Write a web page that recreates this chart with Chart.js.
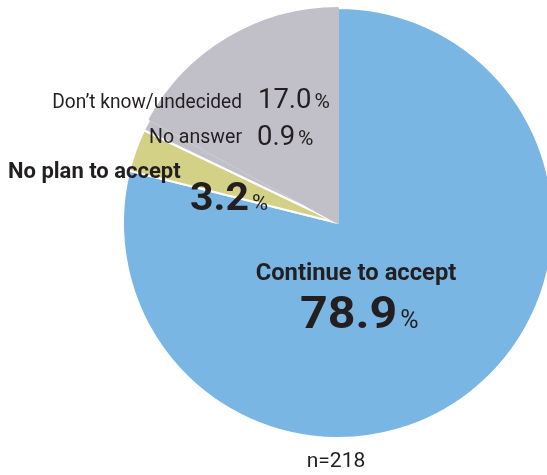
<!DOCTYPE html>
<html>
<head>
<meta charset="utf-8">
<script src="https://cdn.jsdelivr.net/npm/chart.js@4"></script>
<style>
  html, body { margin: 0; padding: 0; background: #fff; overflow: hidden; }
  #wrap { width: 547px; height: 475px; overflow: hidden; position: relative; }
  canvas { position: absolute; left: 0; top: 0; }
</style>
</head>
<body>
<div id="wrap"><canvas id="chart" width="676" height="475"></canvas></div>
<script>
const categories = ["Continue to accept", "No plan to accept", "No answer", "Don\u2019t know/undecided"];
const shares = [78.9, 3.2, 0.9, 17.0];
const sampleSize = 218;
const sliceColors = ["#79b6e3", "#d3d186", "#c1c0c8", "#c1c0c8"];
const edgeColors = ["#ffffff", "#ffffff", "#ffffff", "#c1c0c8"];

const INK = "#231f20";
const SANS = "Roboto, 'Liberation Sans', sans-serif";

function drawText(ctx, text, x, y, font, sx, align) {
  ctx.save();
  ctx.font = font;
  ctx.textBaseline = "alphabetic";
  ctx.textAlign = "left";
  const w = ctx.measureText(text).width * sx;
  let left = x;
  if (align === "right") left = x - w;
  if (align === "center") left = x - w / 2;
  ctx.translate(left, y);
  ctx.scale(sx, 1);
  ctx.fillStyle = INK;
  ctx.fillText(text, 0, 0);
  ctx.restore();
  return left + w;
}

// value followed by a smaller percent sign
function drawValue(ctx, value, x, y, numFont, numSx, pctFont) {
  const end = drawText(ctx, value.toFixed(1), x, y, numFont, numSx, "left");
  drawText(ctx, "%", end + 3, y, pctFont, 1, "left");
}

const labelPlugin = {
  id: "sliceLabels",
  afterDraw(chart) {
    const arc = chart.getDatasetMeta(0).data[0];
    const cx = arc.x, cy = arc.y, r = arc.outerRadius;
    const ctx = chart.ctx;

    // Continue to accept
    drawText(ctx, categories[0], cx + 18, cy + 57, "bold 24px " + SANS, 0.99, "center");
    drawValue(ctx, shares[0], cx - 38, cy + 105, "bold 44px " + SANS, 1.1, "25px " + SANS);

    // Don't know/undecided
    drawText(ctx, categories[3], cx - 96, cy - 115, "21px " + SANS, 0.91, "right");
    drawValue(ctx, shares[3], cx - 80, cy - 115, "28px " + SANS, 0.98, "21px " + SANS);

    // No answer
    drawText(ctx, categories[2], cx - 96, cy - 80, "21px " + SANS, 0.93, "right");
    drawValue(ctx, shares[2], cx - 81, cy - 78, "28px " + SANS, 0.98, "21px " + SANS);

    // No plan to accept
    drawText(ctx, categories[1], cx - 330, cy - 45, "bold 22px " + SANS, 1.0, "left");
    drawValue(ctx, shares[1], cx - 148, cy - 13, "bold 38px " + SANS, 1.08, "22px " + SANS);

    // sample size
    drawText(ctx, "n=" + sampleSize, cx - 2, cy + r + 29, "21px " + SANS, 1.0, "center");
  }
};

const ctx = document.getElementById("chart").getContext("2d");
const chart = new Chart(ctx, {
  type: "pie",
  data: {
    labels: categories,
    datasets: [{
      data: shares,
      backgroundColor: sliceColors,
      borderColor: edgeColors,
      borderWidth: 2,
    }],
  },
  options: {
    responsive: false,
    animation: false,
    devicePixelRatio: 1,
    layout: { padding: { left: 122, right: 122, top: 7, bottom: 36 } },
    plugins: {
      legend: { display: false },
      tooltip: { enabled: false },
    },
  },
  plugins: [labelPlugin],
});
</script>
</body>
</html>
